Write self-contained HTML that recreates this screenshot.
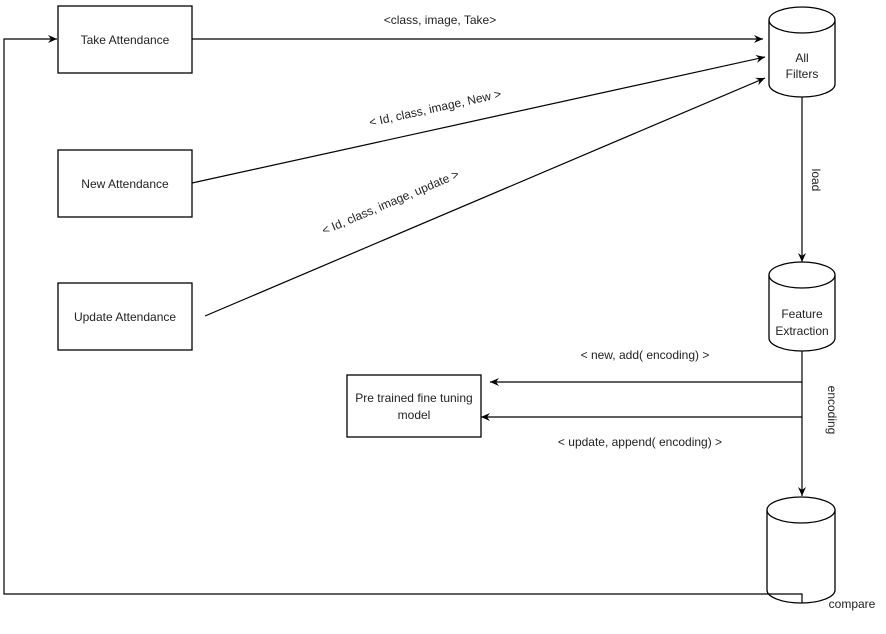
<!DOCTYPE html>
<html><head><style>
body{margin:0;background:#fff;}
svg text{font-family:"Liberation Sans",sans-serif;font-size:12px;fill:#222;}
</style></head><body>
<svg width="886" height="629" viewBox="0 0 886 629" xmlns="http://www.w3.org/2000/svg">
<defs>
<marker id="a" markerWidth="10" markerHeight="10" refX="9" refY="5" orient="auto" markerUnits="userSpaceOnUse">
<path d="M0,1 L9,5 L0,9 L3,5 Z" fill="#000"/></marker>
</defs>
<g fill="#fff" stroke="#000" stroke-width="1.3">
<rect x="58" y="6" width="134" height="67"/>
<rect x="58" y="150" width="134" height="67"/>
<rect x="58" y="283" width="134" height="67"/>
<rect x="347" y="375" width="134" height="62"/>
<path d="M769,20 A33,13 0 0 1 835,20 V84 A33,13 0 0 1 769,84 Z"/><path d="M769,20 A33,13 0 0 0 835,20"/>
<path d="M769,275 A33,13 0 0 1 835,275 V338 A33,13 0 0 1 769,338 Z"/><path d="M769,275 A33,13 0 0 0 835,275"/>
<path d="M767,510 A34,13 0 0 1 835,510 V590 A34,13 0 0 1 767,590 Z"/><path d="M767,510 A34,13 0 0 0 835,510"/>
</g>
<g stroke="#000" stroke-width="1.2" fill="none">
<line x1="192" y1="39" x2="763" y2="39" marker-end="url(#a)"/>
<line x1="192" y1="183" x2="765" y2="57" marker-end="url(#a)"/>
<line x1="205" y1="316" x2="765" y2="78" marker-end="url(#a)"/>
<line x1="802" y1="97" x2="802" y2="262" marker-end="url(#a)"/>
<line x1="802" y1="351" x2="802" y2="496" marker-end="url(#a)"/>
<line x1="802" y1="382" x2="490" y2="382" marker-end="url(#a)"/>
<line x1="802" y1="417" x2="481" y2="417" marker-end="url(#a)"/>
<polyline points="802,603 802,594 4,594 4,39 57,39" marker-end="url(#a)"/>
</g>
<text x="440" y="24" text-anchor="middle">&lt;class, image, Take&gt;</text>
<text transform="translate(436,112) rotate(-12.4)" text-anchor="middle">&lt; Id, class, image, New &gt;</text>
<text transform="translate(392,206) rotate(-23)" text-anchor="middle">&lt; Id, class, image, update &gt;</text>
<text transform="translate(812,180) rotate(90)" text-anchor="middle">load</text>
<text transform="translate(828,410) rotate(90)" text-anchor="middle">encoding</text>
<text x="645" y="359" text-anchor="middle">&lt; new, add( encoding) &gt;</text>
<text x="640" y="446" text-anchor="middle">&lt; update, append( encoding) &gt;</text>
<text x="852" y="608" text-anchor="middle">compare</text>
<text x="125" y="44" text-anchor="middle">Take Attendance</text>
<text x="125" y="188" text-anchor="middle">New Attendance</text>
<text x="125" y="321" text-anchor="middle">Update Attendance</text>
<text x="414" y="402" text-anchor="middle">Pre trained fine tuning</text>
<text x="414" y="419" text-anchor="middle">model</text>
<text x="802" y="62" text-anchor="middle">All</text>
<text x="802" y="78" text-anchor="middle">Filters</text>
<text x="802" y="318" text-anchor="middle">Feature</text>
<text x="802" y="335" text-anchor="middle">Extraction</text>
</svg>
</body></html>
